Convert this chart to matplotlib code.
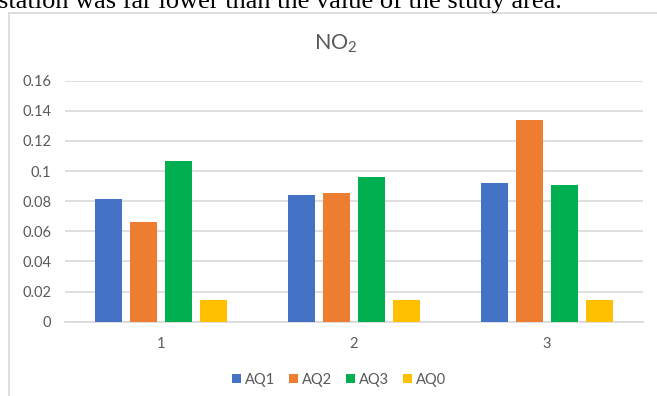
import matplotlib
matplotlib.use("Agg")
import matplotlib.pyplot as plt
from matplotlib.patches import Patch
from matplotlib.lines import Line2D
import numpy as np

categories = ["1", "2", "3"]
series_names = ["AQ1", "AQ2", "AQ3", "AQ0"]
aq1 = [0.0815, 0.0841, 0.0919]
aq2 = [0.066, 0.0852, 0.1337]
aq3 = [0.107, 0.0959, 0.0908]
aq0 = [0.0142, 0.0142, 0.0142]
yticks = [0, 0.02, 0.04, 0.06, 0.08, 0.1, 0.12, 0.14, 0.16]
ytick_labels = ["0", "0.02", "0.04", "0.06", "0.08", "0.1", "0.12", "0.14", "0.16"]

colours = ["#4472C4", "#ED7D31", "#00B050", "#FFC000"]
grey = "#595959"
grid_c = "#D9D9D9"

plt.rcParams["font.family"] = ["Lato", "DejaVu Sans"]
plt.rcParams["mathtext.default"] = "regular"

W, H = 657, 396
fig = plt.figure(figsize=(W / 100, H / 100), dpi=100)

# text line from the page above the chart (cut off at the top)
fig.text(-2 / W, 1 - 8 / H, "station was far lower than the value of the study area.",
         family="Liberation Serif", fontsize=19, color="black", va="baseline", ha="left")

# chart area border (left and top edges visible)
fig.add_artist(Line2D([8.5 / W, 8.5 / W], [0, 1 - 12.5 / H], transform=fig.transFigure,
                      color=grid_c, lw=1.2))
fig.add_artist(Line2D([8.5 / W, 1], [1 - 12.5 / H, 1 - 12.5 / H], transform=fig.transFigure,
                      color=grid_c, lw=1.2))

left, right = 65 / W, 643 / W
bottom, top = 1 - 321.7 / H, 1 - 80.7 / H
ax = fig.add_axes([left, bottom, right - left, top - bottom])

x = np.arange(len(categories))
width = 0.14
step = 0.1816
for j, (name, vals) in enumerate(zip(series_names, [aq1, aq2, aq3, aq0])):
    ax.bar(x + (j - 1.5) * step, vals, width=width, color=colours[j], label=name, zorder=3)

ax.set_xlim(-0.5, 2.5)
ax.set_ylim(0, 0.16)
ax.set_yticks(yticks)
ax.set_yticklabels(ytick_labels)
ax.set_xticks(x)
ax.set_xticklabels(categories)
ax.tick_params(axis="both", length=0, labelsize=10.5, labelcolor=grey)
ax.tick_params(axis="y", pad=10)
ax.tick_params(axis="x", pad=11)
ax.grid(axis="y", color=grid_c, lw=1.2, zorder=0)
for s in ["top", "right", "left"]:
    ax.spines[s].set_visible(False)
ax.spines["bottom"].set_color(grid_c)
ax.spines["bottom"].set_linewidth(1.2)

fig.text(336 / W, 1 - 44 / H, "NO$_2$", ha="center", va="center",
         fontsize=15.5, color=grey)

handles = [Patch(facecolor=c, edgecolor="none") for c in colours]
fig.legend(handles, series_names, loc="center", bbox_to_anchor=(339 / W, 1 - 380 / H),
           ncol=4, frameon=False, fontsize=10.5, labelcolor=grey,
           handlelength=0.6, handleheight=0.6, handletextpad=0.25, columnspacing=1.0)

fig.savefig("out.png", dpi=100)
